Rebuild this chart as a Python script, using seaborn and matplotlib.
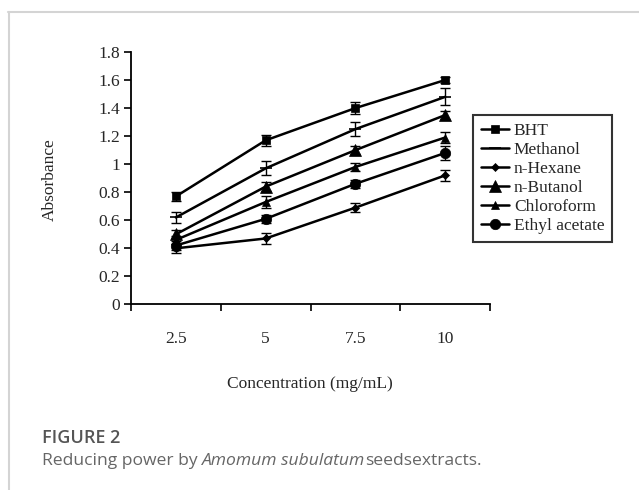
import matplotlib
matplotlib.use("Agg")
import matplotlib.pyplot as plt
import seaborn as sns
import numpy as np
import pandas as pd
from matplotlib.lines import Line2D
from matplotlib.ticker import FixedLocator, FuncFormatter, NullFormatter

# ---- data ----
concentrations = ["2.5", "5", "7.5", "10"]
series_names = ["BHT", "Methanol", "n-Hexane", "n-Butanol", "Chloroform", "Ethyl acetate"]
bht = [0.77, 1.17, 1.40, 1.60]
methanol = [0.62, 0.97, 1.25, 1.48]
n_hexane = [0.40, 0.47, 0.69, 0.92]
n_butanol = [0.50, 0.84, 1.10, 1.35]
chloroform = [0.46, 0.73, 0.98, 1.19]
ethyl_acetate = [0.42, 0.61, 0.86, 1.08]
err_bht = [0.03, 0.04, 0.04, 0.02]
err_methanol = [0.04, 0.05, 0.05, 0.06]
err_n_hexane = [0.03, 0.04, 0.03, 0.04]
err_n_butanol = [0.03, 0.03, 0.03, 0.03]
err_chloroform = [0.03, 0.04, 0.03, 0.04]
err_ethyl_acetate = [0.03, 0.03, 0.03, 0.05]
y_ticks = [0, 0.2, 0.4, 0.6, 0.8, 1.0, 1.2, 1.4, 1.6, 1.8]

values = [bht, methanol, n_hexane, n_butanol, chloroform, ethyl_acetate]
errors = [err_bht, err_methanol, err_n_hexane, err_n_butanol, err_chloroform, err_ethyl_acetate]
styles = {
    "BHT": dict(marker="s", ms=6),
    "Methanol": dict(marker="_", ms=8),
    "n-Hexane": dict(marker="D", ms=4.5),
    "n-Butanol": dict(marker="^", ms=9),
    "Chloroform": dict(marker="^", ms=6),
    "Ethyl acetate": dict(marker="o", ms=7.5),
}

rows = []
for name, vals, errs in zip(series_names, values, errors):
    for i, (c, v, e) in enumerate(zip(concentrations, vals, errs)):
        rows.append(dict(series=name, pos=i, conc=c, absorbance=v, err=e))
df = pd.DataFrame(rows)

sns.set_style("white")
plt.rcParams["font.family"] = ["Liberation Serif", "DejaVu Serif"]

fig = plt.figure(figsize=(6.39, 4.90), dpi=100)
ax = fig.add_axes([131 / 639, 1 - 304.4 / 490, (490 - 131) / 639, (304.4 - 52) / 490])

for name in series_names:
    sub = df[df["series"] == name]
    st = styles[name]
    sns.lineplot(data=sub, x="pos", y="absorbance", ax=ax, color="black", linewidth=1.8,
                 marker=st["marker"], markersize=st["ms"], markeredgecolor="black",
                 markerfacecolor="black", markeredgewidth=1.2 if st["marker"] == "_" else 0.5,
                 label=name, errorbar=None)
    ax.errorbar(sub["pos"], sub["absorbance"], yerr=sub["err"], fmt="none",
                ecolor="black", elinewidth=1.0, capsize=3.5, capthick=1.0)

ax.set_xlim(-0.5, 3.5)
ax.set_ylim(0, 1.8)
ax.xaxis.set_major_locator(FixedLocator([-0.5, 0.5, 1.5, 2.5, 3.5]))
ax.xaxis.set_major_formatter(NullFormatter())
ax.xaxis.set_minor_locator(FixedLocator(list(range(len(concentrations)))))
ax.xaxis.set_minor_formatter(FuncFormatter(lambda v, p: concentrations[int(round(v))]))
ax.tick_params(axis="x", which="major", direction="out", length=5, width=1.2, bottom=True, color="black")
ax.tick_params(axis="x", which="minor", length=0, pad=19, labelsize=12.5, bottom=True)
ax.yaxis.set_major_locator(FixedLocator(y_ticks))
ax.yaxis.set_major_formatter(FuncFormatter(lambda v, p: f"{v:g}"))
ax.tick_params(axis="y", direction="out", length=5, width=1.2, left=True, pad=3, labelsize=12.5, color="black")

for s in ["top", "right"]:
    ax.spines[s].set_visible(False)
for s in ["left", "bottom"]:
    ax.spines[s].set_color("black")
    ax.spines[s].set_linewidth(1.3)

ax.set_xlabel("Concentration (mg/mL)", fontsize=12.5)
ax.xaxis.set_label_coords(0.499, -0.284)
ax.set_ylabel("Absorbance", fontsize=12.5)
ax.yaxis.set_label_coords(-0.204, 0.493)

handles, labels = ax.get_legend_handles_labels()
leg = ax.legend(handles, labels, loc="upper left", bbox_to_anchor=(473 / 639, 1 - 115 / 490),
                bbox_transform=fig.transFigure, frameon=True, fancybox=False, shadow=False,
                fontsize=12.5, handlelength=1.6, handletextpad=0.3, labelspacing=0.17,
                borderpad=0.45, borderaxespad=0)
leg.get_frame().set_edgecolor("black")
leg.get_frame().set_linewidth(1.5)

# page frame lines
fig.add_artist(Line2D([8 / 639, 1], [1 - 12.5 / 490, 1 - 12.5 / 490], transform=fig.transFigure,
                      color="#d4d4d4", linewidth=1.5))
fig.add_artist(Line2D([8.5 / 639, 8.5 / 639], [0, 1 - 12.5 / 490], transform=fig.transFigure,
                      color="#d4d4d4", linewidth=1.5))

# caption
cap_font = ["Open Sans", "DejaVu Sans"]
fig.text(42 / 639, 1 - 438 / 490, "FIGURE 2", fontsize=13, color="#555555", family=cap_font,
         fontweight="semibold", va="center", ha="left")
fig.canvas.draw()
renderer = fig.canvas.get_renderer()
y_cap = 1 - 461 / 490
t1 = fig.text(42 / 639, y_cap, "Reducing power by ", fontsize=12.6, color="#666666",
              family=cap_font, va="center", ha="left")
bb = t1.get_window_extent(renderer)
t2 = fig.text(bb.x1 / fig.bbox.width, y_cap, "Amomum subulatum", fontsize=12.6, color="#666666",
              family=cap_font, style="italic", va="center", ha="left")
bb2 = t2.get_window_extent(renderer)
fig.text(bb2.x1 / fig.bbox.width, y_cap, "seedsextracts.", fontsize=12.6, color="#666666",
         family=cap_font, va="center", ha="left")

fig.savefig("out.png", dpi=100)
